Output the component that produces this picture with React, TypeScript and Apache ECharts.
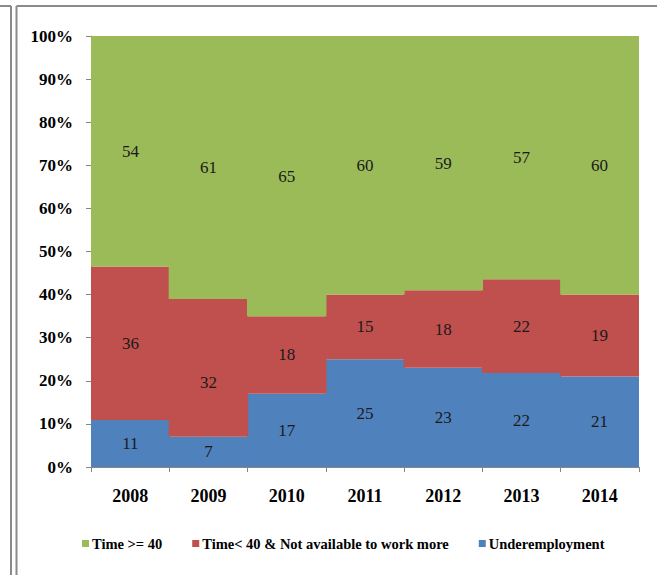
import React, { useEffect, useRef } from "react";
import * as echarts from "echarts";

const years = ["2008", "2009", "2010", "2011", "2012", "2013", "2014"];
const under = [11, 7, 17, 25, 23, 22, 21];
const notAvail = [36, 32, 18, 15, 18, 22, 19];
const full = [54, 61, 65, 60, 59, 57, 60];
const yTicks = [0, 10, 20, 30, 40, 50, 60, 70, 80, 90, 100];

const seriesNames = ["Time >= 40", "Time< 40 & Not available to work more", "Underemployment"];
const colors = ["#9BBB59", "#C0504D", "#4F81BD"];

export default function App() {
  const ref = useRef<HTMLDivElement>(null);
  useEffect(() => {
    if (!ref.current) return;
    const chart = echarts.init(ref.current, null, { renderer: "svg" });
    const totals = years.map((_, i) => under[i] + notAvail[i] + full[i]);
    const norm = (arr: number[]) => arr.map((v, i) => (v / totals[i]) * 100);
    const serif = "'Liberation Serif', 'Times New Roman', serif";
    const mk = (name: string, raw: number[], color: string, shifts: Record<number, number> = {}) => ({
      name,
      type: "bar",
      stack: "total",
      barWidth: "101.5%",
      data: norm(raw).map((v, i) =>
        shifts[i] !== undefined ? { value: v, label: { offset: [0, shifts[i]] } } : { value: v }
      ),
      itemStyle: { color, borderWidth: 0 },
      label: {
        show: true,
        position: "inside",
        color: "#1a1a1a",
        fontFamily: serif,
        fontSize: 17,
        formatter: (p: any) => String(raw[p.dataIndex]),
      },
    });
    const lineStyle = { stroke: "#8a8a8a", lineWidth: 2 };
    chart.setOption({
      animation: false,
      backgroundColor: "#ffffff",
      grid: { left: 91, right: 18, top: 36, bottom: 108, containLabel: false },
      legend: {
        data: seriesNames.map((n, i) => ({ name: n, itemStyle: { color: colors[i] } })),
        left: 77,
        top: 531,
        itemWidth: 7,
        itemHeight: 7,
        itemGap: 30,
        icon: "rect",
        textStyle: { fontFamily: serif, fontSize: 14.5, fontWeight: "bold", color: "#000", padding: [0, 0, 0, -2] },
      },
      xAxis: {
        type: "category",
        data: years,
        splitLine: { show: false },
        axisLine: { lineStyle: { color: "#868686", width: 1 } },
        axisTick: { show: true, length: 5, lineStyle: { color: "#868686" } },
        axisLabel: { margin: 20, fontFamily: serif, fontSize: 18, fontWeight: "bold", color: "#000" },
      },
      yAxis: {
        type: "value",
        min: yTicks[0],
        max: yTicks[yTicks.length - 1],
        interval: 10,
        splitLine: { show: false },
        axisLine: { show: true, lineStyle: { color: "#868686", width: 1 } },
        axisTick: { show: true, length: 5, lineStyle: { color: "#868686" } },
        axisLabel: {
          margin: 18,
          fontFamily: serif,
          fontSize: 17,
          fontWeight: "bold",
          color: "#000",
          formatter: "{value}%",
        },
      },
      graphic: [
        { type: "line", shape: { x1: 11, y1: 6, x2: 11, y2: 575 }, style: lineStyle },
        { type: "line", shape: { x1: 0, y1: 6, x2: 11, y2: 6 }, style: lineStyle },
        { type: "line", shape: { x1: 16.5, y1: 6, x2: 16.5, y2: 575 }, style: lineStyle },
        { type: "line", shape: { x1: 16.5, y1: 6, x2: 657, y2: 6 }, style: lineStyle },
      ],
      series: [
        mk(seriesNames[2], under, colors[2]),
        mk(seriesNames[1], notAvail, colors[1], { 1: 15 }),
        mk(seriesNames[0], full, colors[0]),
      ],
    });
    return () => chart.dispose();
  }, []);
  return (
    <div
      ref={ref}
      style={{ position: "fixed", left: 0, top: 0, width: 657, height: 575 }}
    />
  );
}
